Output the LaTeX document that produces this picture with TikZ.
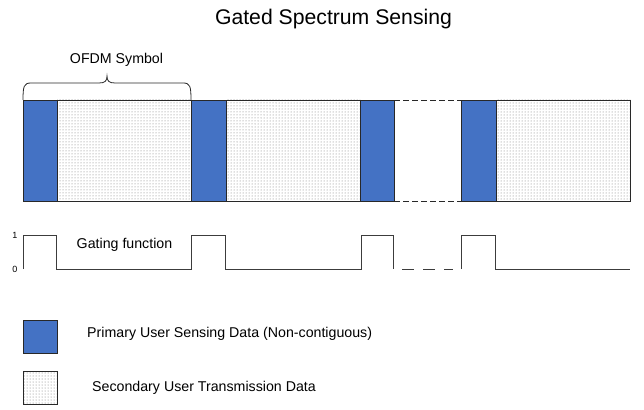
\documentclass[tikz,border=0pt]{standalone}
\usepackage{fontspec}
\setmainfont{Liberation Sans}
\usetikzlibrary{patterns}
\definecolor{pblue}{RGB}{68,114,196}
\definecolor{edge}{RGB}{40,40,40}
\definecolor{sig}{RGB}{60,60,60}
\begin{document}
\begin{tikzpicture}[x=1pt,y=-1pt,
  pu/.style={draw=edge,line width=0.8pt,fill=pblue},
  su/.style={pattern=dots,pattern color=black!55},
  frame/.style={draw=edge,line width=0.8pt},
  gap/.style={draw=edge,line width=0.8pt,dash pattern=on 6pt off 3pt},
  sigline/.style={draw=sig,line width=0.9pt},
  lbl/.style={font=\fontsize{14.2}{16}\selectfont,inner sep=0pt}]
\useasboundingbox (0,0) rectangle (644,409);
% title
\node[inner sep=0pt,anchor=base,font=\fontsize{21.2}{24}\selectfont] (title) at (333.5,25) {Gated Spectrum Sensing};
% dotted regions
\fill[su] (57,100) rectangle (191,201);
\fill[su] (226,100) rectangle (360,201);
\fill[su] (496,100) rectangle (630,201);
% frame top/bottom lines
\draw[frame] (23,100) -- (394,100);
\draw[frame] (23,201) -- (394,201);
\draw[frame] (461,100) -- (630,100) -- (630,201) -- (461,201);
\draw[gap] (394,100) -- (461,100);
\draw[gap] (394,201) -- (461,201);
% blue blocks
\draw[pu] (23,100) rectangle (57,201);
\draw[pu] (191,100) rectangle (226,201);
\draw[pu] (360,100) rectangle (394,201);
\draw[pu] (461,100) rectangle (496,201);
% brace
\draw[draw=edge,line width=0.8pt] (23,100) .. controls (23,86) and (24,83) .. (31,83) -- (99,83)
  .. controls (105,83) and (107,81) .. (107,76) .. controls (107,81) and (109,83) .. (115,83)
  -- (183,83) .. controls (190,83) and (191,86) .. (191,100);
\node[lbl,anchor=base] (ofdm) at (116.5,64) {OFDM Symbol};
% gating function
\node[inner sep=0pt,font=\fontsize{9}{10}\selectfont] (one) at (15,235) {1};
\node[inner sep=0pt,font=\fontsize{9}{10}\selectfont] (zero) at (15,269) {0};
\draw[sigline] (23,269) -- (23,235) -- (56,235) -- (56,269) -- (191,269) -- (191,235) -- (225,235) -- (225,269)
  -- (361,269) -- (361,235) -- (393,235) -- (393,269);
\draw[sigline,dash pattern=on 12pt off 9pt] (402,269) -- (453,269);
\draw[sigline] (461,269) -- (461,235) -- (495,235) -- (495,269) -- (630,269);
\node[lbl,anchor=base] (gating) at (124.5,248) {Gating function};
% legend
\draw[pu] (23,320) rectangle (57,353);
\fill[su] (23,371) rectangle (57,404);
\draw[frame] (23,371) rectangle (57,404);
\node[lbl,anchor=base west] (leg1) at (87,337) {Primary User Sensing Data (Non-contiguous)};
\node[lbl,anchor=base west] (leg2) at (92,391) {Secondary User Transmission Data};
\end{tikzpicture}
\end{document}
